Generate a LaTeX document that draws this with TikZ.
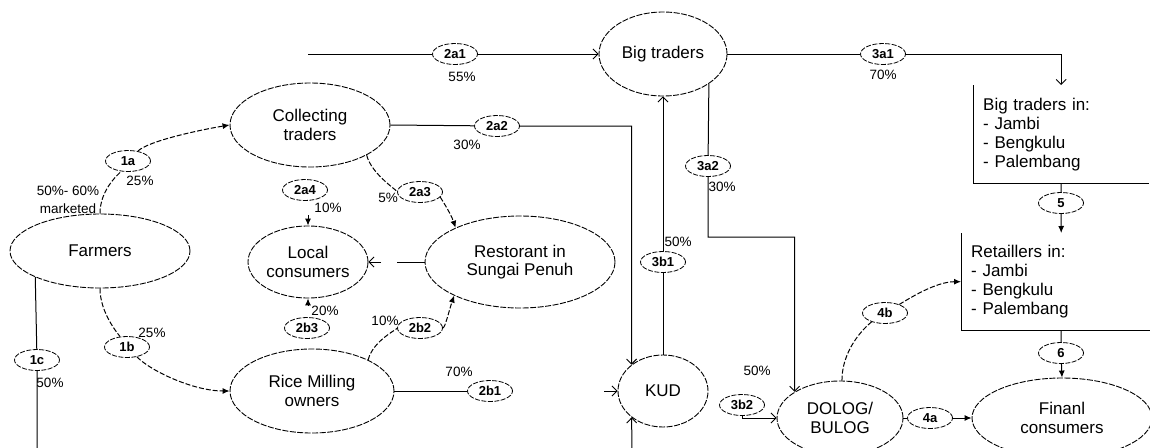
\documentclass[tikz,border=0pt]{standalone}
\usepackage{fontspec}
\setmainfont{Liberation Sans}
\usetikzlibrary{shapes.geometric,arrows.meta}
\begin{document}
\begin{tikzpicture}[x=1pt,y=-1pt,
  every node/.style={inner sep=0pt},
  actor/.style={ellipse,draw,line width=0.9pt,dash pattern=on 6pt off 1.5pt,align=center,font=\fontsize{17}{18.5}\selectfont},
  lab/.style={ellipse,draw,fill=white,line width=0.8pt,dash pattern=on 5pt off 1.5pt,minimum width=45pt,minimum height=21pt,font=\fontsize{13}{15}\selectfont\bfseries},
  pct/.style={font=\fontsize{13.5}{15}\selectfont},
  flow/.style={line width=1pt},
  dflow/.style={line width=1pt,dash pattern=on 5pt off 2pt},
  oarr/.style={-{Straight Barb[length=5pt,width=10pt,line width=0.9pt]}},
  farr/.style={-{Latex[length=7pt,width=6pt]}},
  boxtext/.style={rectangle,align=left,font=\fontsize{17}{19}\selectfont,inner xsep=10pt,anchor=north west}
]
\useasboundingbox (0,0) rectangle (1150,447);

% main actors
\node[actor,minimum width=180pt,minimum height=74pt] (F) at (100,251) {Farmers};
\node[actor,minimum width=160pt,minimum height=84pt] (C) at (310,125) {Collecting\\traders};
\node[actor,minimum width=120pt,minimum height=72pt] (L) at (308,262) {Local\\consumers};
\node[actor,minimum width=190pt,minimum height=92pt] (R) at (520,262) {Restorant in\\Sungai Penuh};
\node[actor,minimum width=164pt,minimum height=84pt] (M) at (312,391) {Rice Milling\\owners};
\node[actor,minimum width=128pt,minimum height=84pt] (B) at (663,54) {Big traders};
\node[actor,minimum width=90pt,minimum height=72pt] (K) at (663,391) {KUD};
\node[actor,minimum width=126pt,minimum height=74pt] (D) at (840,418) {DOLOG/\\BULOG};
\node[actor,minimum width=180pt,minimum height=80pt] (Fin) at (1062,418) {Finanl\\consumers};

% boxes (left and bottom borders only)
\node[boxtext,text width=156pt,minimum height=98pt] (BT) at (973,85)
  {Big traders in:\\- Jambi\\- Bengkulu\\- Palembang};
\node[boxtext,text width=180pt,minimum height=97pt] (RT) at (961,233)
  {Retaillers in:\\- Jambi\\- Bengkulu\\- Palembang};
\draw[flow] (BT.north west) -- (BT.south west) -- (BT.south east);
\draw[flow] (RT.north west) -- (RT.south west) -- (RT.south east);

% flow labels
\node[lab] (l1a) at (128,161) {1a};
\node[lab] (l1b) at (127,347) {1b};
\node[lab] (l1c) at (37,360) {1c};
\node[lab] (l2a1) at (455,54) {2a1};
\node[lab] (l2a2) at (497,126) {2a2};
\node[lab] (l2a3) at (420,192) {2a3};
\node[lab] (l2a4) at (305,190) {2a4};
\node[lab] (l2b1) at (490,391) {2b1};
\node[lab] (l2b2) at (420,328) {2b2};
\node[lab] (l2b3) at (307,328) {2b3};
\node[lab] (l3a1) at (883,54) {3a1};
\node[lab] (l3a2) at (708,166) {3a2};
\node[lab] (l3b1) at (663,262) {3b1};
\node[lab] (l3b2) at (742,405) {3b2};
\node[lab] (l4a) at (930,418) {4a};
\node[lab] (l4b) at (885,313) {4b};
\node[lab] (l5) at (1061,203) {5};
\node[lab] (l6) at (1061,353) {6};

% free ends
\coordinate (s2a1) at (308,54);
\coordinate (c1c) at (37,452);
\coordinate (kbot) at (632,452);
\coordinate (kin) at (604,391);
\coordinate (j3a2) at (708,237);
\coordinate (rl1) at (397,262);
\coordinate (rl2) at (381,262);
\coordinate (a2a4) at (308,215);
\coordinate (a2b3) at (308,306);

% dashed curved flows
\draw[dflow] (F.north) .. controls +(0,-25) and +(-8,12) .. (l1a);
\draw[dflow,farr] (l1a) .. controls +(20,-20) and +(-30,5) .. (C.west);
\draw[dflow] (F.south) .. controls +(0,25) and +(-8,-12) .. (l1b);
\draw[dflow,farr] (l1b) .. controls +(25,25) and +(-35,0) .. (M.west);
\draw[dflow] (C.-28) .. controls +(5,20) and +(-20,0) .. (l2a3);
\draw[dflow,farr] (l2a3) .. controls +(20,5) and +(-5,-15) .. (R.152.7);
\draw[dflow] (M.29.4) .. controls +(5,-20) and +(-20,0) .. (l2b2);
\draw[dflow,farr] (l2b2) .. controls +(25,0) and +(-5,15) .. (R.207.3);
\draw[dflow] (D.87) .. controls +(0,-35) and +(-15,10) .. (l4b);
\draw[dflow,farr] (l4b) .. controls +(25,-15) and +(-25,0) .. (RT.west);

% solid flows
\draw[flow,oarr] (s2a1) -- (l2a1) -- (B.west);
\draw[flow,oarr] (B.east) -- (l3a1) -| (BT.north);
\draw[flow,oarr] (C.east) -- (l2a2) -| (K.140);
\draw[flow,oarr] (K.north) -- (l3b1) -- (B.south);
\draw[flow,oarr] (B.-33.6) -- (l3a2) -- (j3a2) -| (D.150);
\draw[flow,oarr] (kbot) -- (K.220);
\draw[flow,oarr] (kin) -- (K.west);
\draw[flow,oarr] (l3b2.south) |- (D.west);
\draw[flow,farr] (D.east) -- (l4a) -- (Fin.west);
\draw[flow,farr] (BT.south) -- (l5) -- (RT.north);
\draw[flow,farr] (RT.south) -- (l6) -- (Fin.north);
\draw[flow] (F.202.7) -- (l1c) -- (c1c);
\draw[flow] (M.east) -- (l2b1);
\draw[flow] (R.west) -- (rl1);
\draw[flow,oarr] (rl2) -- (L.east);
\draw[flow,farr] (a2a4) -- (L.north);
\draw[flow,farr] (a2b3) -- (L.south);

% percentages
\node[pct] (p2a1) at (462,77) {55\%};
\node[pct] (p3a1) at (883,75) {70\%};
\node[pct] (p2a2) at (467,145) {30\%};
\node[pct] (p3a2) at (722,187) {30\%};
\node[pct] (p3b1) at (678,242) {50\%};
\node[pct] (p1a) at (140,181) {25\%};
\node[pct] (pm1) at (68,191) {50\%- 60\%};
\node[pct] (pm2) at (68,209) {marketed};
\node[pct] (p2a3) at (388,198) {5\%};
\node[pct] (p2a4) at (328,208) {10\%};
\node[pct] (p2b3) at (325,311) {20\%};
\node[pct] (p1b) at (152,333) {25\%};
\node[pct] (p2b2) at (385,321) {10\%};
\node[pct] (p1c) at (50,383) {50\%};
\node[pct] (p2b1) at (459,372) {70\%};
\node[pct] (p3b2) at (757,371) {50\%};
\end{tikzpicture}
\end{document}
